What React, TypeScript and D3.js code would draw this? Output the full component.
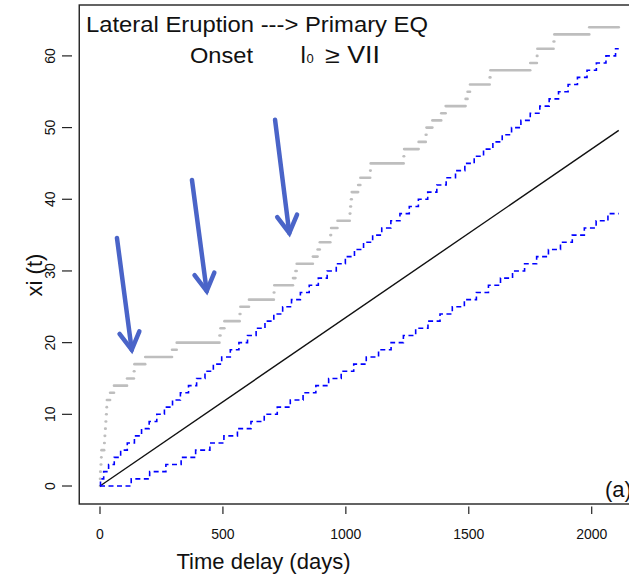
import React from 'react';
import * as d3 from 'd3';

const W = 629;
const H = 580;

// Day at which the observed cumulative count reaches k (k = 1..64)
const observedDays = [
  0, 1, 3, 5, 6, 17, 19, 21, 23, 25, 27, 28, 41, 57, 110, 138, 140, 184, 293, 312,
  486, 490, 506, 568, 571, 606, 707, 709, 785, 795, 800, 866, 885, 894, 937, 940,
  966, 1016, 1018, 1021, 1024, 1050, 1059, 1099, 1101, 1235, 1237, 1296, 1325, 1328,
  1352, 1388, 1406, 1487, 1495, 1505, 1585, 1588, 1750, 1777, 1779, 1845, 1848, 1990,
];
const lastDay = 2110;

// Upper bound of the expected count: day at which it steps to k (k = 1..61)
const upperDays = [
  2, 15, 35, 58, 84, 111, 140, 169, 200, 231, 262, 295, 327, 360, 393, 427, 461, 495,
  530, 565, 600, 635, 671, 707, 743, 779, 815, 851, 888, 924, 961, 998, 1035, 1072,
  1109, 1146, 1183, 1220, 1258, 1295, 1333, 1370, 1408, 1446, 1484, 1522, 1560, 1598,
  1636, 1674, 1712, 1750, 1789, 1827, 1865, 1904, 1942, 1981, 2019, 2058, 2097,
];

// Lower bound of the expected count: day at which it steps to k (k = 1..38)
const lowerDays = [
  127, 202, 268, 330, 389, 447, 504, 559, 614, 668, 721, 774, 826, 878, 930, 981, 1032,
  1083, 1133, 1184, 1234, 1284, 1334, 1383, 1433, 1482, 1531, 1580, 1629, 1678, 1727,
  1776, 1824, 1873, 1921, 1970, 2018, 2066,
];

// Expected count: straight line from the origin to its value on the last day
const meanLine: [number, number][] = [
  [0, 0],
  [2110, 49.6],
];

const xTicks = [0, 500, 1000, 1500, 2000];
const yTicks = [0, 10, 20, 30, 40, 50, 60];

// Annotation arrows, tail -> tip, in (days, count)
const arrows: { from: [number, number]; to: [number, number] }[] = [
  { from: [69, 34.6], to: [129, 19.0] },
  { from: [374, 42.7], to: [434, 27.2] },
  { from: [712, 51.1], to: [770, 35.3] },
];

const FONT = "'Liberation Sans', Arial, Helvetica, sans-serif";

export default function App() {
  const x = d3.scaleLinear().domain([-84.4, 2194.4]).range([79.25, 639.5]);
  const y = d3.scaleLinear().domain([-2.51, 67.1]).range([504, 5]);

  const stepLine = d3
    .line<[number, number]>()
    .x((d) => x(d[0]))
    .y((d) => y(d[1]))
    .curve(d3.curveStepAfter);

  const bandPoints = (days: number[]): [number, number][] => {
    const pts: [number, number][] = [[0, 0]];
    days.forEach((d, i) => pts.push([d, i + 1]));
    pts.push([lastDay, days.length]);
    return pts;
  };

  const straight = d3
    .line<[number, number]>()
    .x((d) => x(d[0]))
    .y((d) => y(d[1]));

  // horizontal pieces of the observed staircase
  const obsSegments = [0, ...observedDays].map((start, k) => ({
    k,
    x1: start,
    x2: k < observedDays.length ? observedDays[k] : lastDay,
  }));

  const arrowHead = (from: [number, number], to: [number, number]) => {
    const x0 = x(from[0]);
    const y0 = y(from[1]);
    const x1 = x(to[0]);
    const y1 = y(to[1]);
    const ang = Math.atan2(y0 - y1, x0 - x1);
    const len = 20;
    const spread = (30 * Math.PI) / 180;
    const a = [x1 + len * Math.cos(ang - spread), y1 + len * Math.sin(ang - spread)];
    const b = [x1 + len * Math.cos(ang + spread), y1 + len * Math.sin(ang + spread)];
    return `M${a[0]},${a[1]}L${x1},${y1}L${b[0]},${b[1]}`;
  };

  const boxLeft = x.range()[0];
  const boxRight = x.range()[1];
  const boxTop = y.range()[1];
  const boxBottom = y.range()[0];

  return (
    <div style={{ width: W, height: H, overflow: 'hidden' }}>
      <style>{`html,body{margin:0;padding:0;overflow:hidden;}`}</style>
      <svg
        width={W}
        height={H}
        style={{ display: 'block', background: '#fff', fontFamily: FONT }}
      >
        {/* observed counts */}
        <g stroke="#bebebe" strokeWidth={2.6} strokeLinecap="round">
          {obsSegments.map((s) => (
            <line key={s.k} x1={x(s.x1)} x2={x(s.x2)} y1={y(s.k)} y2={y(s.k)} />
          ))}
        </g>

        {/* expected count and its bounds */}
        <path d={straight(meanLine) || ''} fill="none" stroke="#111" strokeWidth={1.4} />
        <path
          d={stepLine(bandPoints(upperDays)) || ''}
          fill="none"
          stroke="#0000ff"
          strokeWidth={1.6}
          strokeDasharray="5,3.5"
        />
        <path
          d={stepLine(bandPoints(lowerDays)) || ''}
          fill="none"
          stroke="#0000ff"
          strokeWidth={1.6}
          strokeDasharray="5,3.5"
        />

        {/* arrows */}
        <g stroke="#4a64c8" strokeWidth={4.5} fill="none" strokeLinecap="round" strokeLinejoin="miter">
          {arrows.map((a, i) => (
            <g key={i}>
              <line x1={x(a.from[0])} y1={y(a.from[1])} x2={x(a.to[0])} y2={y(a.to[1])} />
              <path d={arrowHead(a.from, a.to)} />
            </g>
          ))}
        </g>

        {/* plot frame */}
        <rect
          x={boxLeft}
          y={boxTop}
          width={boxRight - boxLeft}
          height={boxBottom - boxTop}
          fill="none"
          stroke="#222"
          strokeWidth={1.4}
        />

        {/* x axis */}
        <g>
          {xTicks.map((t) => (
            <g key={t}>
              <line x1={x(t)} x2={x(t)} y1={boxBottom + 2.5} y2={boxBottom + 10} stroke="#222" strokeWidth={1.2} />
              <text x={x(t)} y={539} fontSize={14} textAnchor="middle" fill="#111">
                {t}
              </text>
            </g>
          ))}
          <text x={263.5} y={569} fontSize={22} textAnchor="middle" fill="#111">
            Time delay (days)
          </text>
        </g>

        {/* y axis */}
        <g>
          {yTicks.map((t) => (
            <g key={t}>
              <line x1={62} x2={72} y1={y(t)} y2={y(t)} stroke="#222" strokeWidth={1.2} />
              <text
                transform={`translate(55,${y(t)}) rotate(-90)`}
                fontSize={14}
                textAnchor="middle"
                fill="#111"
              >
                {t}
              </text>
            </g>
          ))}
          <text transform={`translate(42,275) rotate(-90)`} fontSize={22} textAnchor="middle" fill="#111">
            xi (t)
          </text>
        </g>

        {/* titles */}
        <text x={86} y={32} fontSize={22} fill="#111" textLength={342} lengthAdjust="spacingAndGlyphs">
          Lateral Eruption ---&gt; Primary EQ
        </text>
        <text x={190} y={63} fontSize={22} fill="#111" textLength={63} lengthAdjust="spacingAndGlyphs">
          Onset
        </text>
        <text x={300} y={63} fontSize={23} fill="#111">
          I
        </text>
        <text x={306.5} y={63} fontSize={13} fill="#111">
          0
        </text>
        <text x={325} y={63} fontSize={23} fill="#111" textLength={55} lengthAdjust="spacingAndGlyphs">
          ≥ VII
        </text>

        <text x={605} y={497} fontSize={22} fill="#111">
          (a)
        </text>
      </svg>
    </div>
  );
}
